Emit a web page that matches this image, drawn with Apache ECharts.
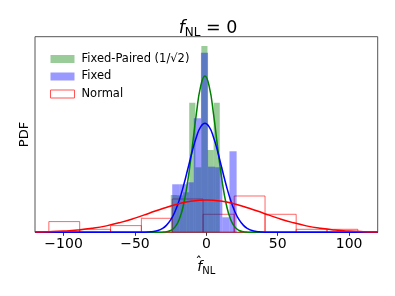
<!DOCTYPE html>
<html>
<head>
<meta charset="utf-8">
<script src="https://cdn.jsdelivr.net/npm/echarts@6/dist/echarts.min.js"></script>
<style>html,body{margin:0;padding:0;background:#fff}#c{width:395px;height:296px}</style>
</head>
<body>
<div id="c"></div>
<script>
// ---- data ----
const xTicks = [-100, -50, 0, 50, 100];
const xTickLabels = ['\u2212100', '\u221250', '0', '50', '100'];

// Normal: histogram (outlined bins)
const normalEdges = [-110.3, -88.7, -67.1, -45.5, -23.9, -2.3, 19.5, 41.1, 62.9, 84.5, 106.1];
const normalHeights = [0.00339, 0.00095, 0.00212, 0.00444, 0.01056, 0.00571, 0.01151, 0.00571, 0.00095, 0.00095];

// Fixed-Paired (1/sqrt2) histogram
const fpEdges = [-24.9, -20.6, -16.3, -12.0, -7.7, -3.5, 0.8, 5.1, 9.4];
const fpHeights = [0.01183, 0.01173, 0.01268, 0.04109, 0.02061, 0.05907, 0.02609, 0.04109];

// Fixed histogram
const fixedEdges = [-23.9, -18.9, -13.9, -8.8, -3.8, 1.2, 6.2, 11.2, 16.2, 21.2];
const fixedHeights = [0.01522, 0.01522, 0.01585, 0.03615, 0.05694, 0.0208, 0.02061, 0.00476, 0.02568];

// fitted curves, read as points
const normalCurveX = [-120, -110, -100, -90, -80, -70, -60, -50, -40, -30, -20, -10, 0, 10, 20, 30, 40, 50, 60, 70, 80, 90, 100, 110, 120];
const normalCurveY = [0.00009, 0.00019, 0.00038, 0.00071, 0.00125, 0.00204, 0.00314, 0.0045, 0.00605, 0.00762, 0.00898, 0.00991, 0.01024, 0.00991, 0.00898, 0.00762, 0.00605, 0.0045, 0.00314, 0.00204, 0.00125, 0.00071, 0.00038, 0.00019, 0.00009];

const fitX = [-120, -43, -40, -37, -34, -31, -28, -25, -22, -19, -16, -13, -10, -7, -4, -1, 2, 5, 8, 11, 14, 17, 20, 23, 26, 29, 32, 35, 38, 41, 120];
const fixedCurveY = [0, 0.00004, 0.00011, 0.00026, 0.00056, 0.00115, 0.00219, 0.00392, 0.00653, 0.01015, 0.01476, 0.02005, 0.02544, 0.03016, 0.03341, 0.03456, 0.03341, 0.03016, 0.02544, 0.02005, 0.01476, 0.01015, 0.00653, 0.00392, 0.00219, 0.00115, 0.00056, 0.00026, 0.00011, 0.00004, 0];
const fpCurveY = [0, 0, 0, 0, 0, 0.00005, 0.00018, 0.00058, 0.00165, 0.00407, 0.00873, 0.01631, 0.02653, 0.03754, 0.04623, 0.04956, 0.04623, 0.03754, 0.02653, 0.01631, 0.00873, 0.00407, 0.00165, 0.00058, 0.00018, 0.00005, 0, 0, 0, 0, 0];

const yMax = 0.062;
// --------------------------------------

function bins(edges, heights) {
  return heights.map((h, i) => [edges[i], edges[i + 1], h]);
}
function pts(xs, ys) { return xs.map((x, i) => [x, ys[i]]); }

function histSeries(name, data, fill, stroke, z) {
  const outline = fill === 'none';
  return {
    name: name, type: 'custom', z: z,
    data: data,
    encode: { x: [0, 1], y: 2 },
    itemStyle: outline
      ? { color: 'rgba(255,255,255,0)', borderColor: stroke, borderWidth: 1 }
      : { color: fill, borderWidth: 0 },
    renderItem: function (params, api) {
      const p0 = api.coord([api.value(0), api.value(2)]);
      const p1 = api.coord([api.value(1), 0]);
      return {
        type: 'rect',
        shape: { x: p0[0], y: p0[1], width: p1[0] - p0[0], height: p1[1] - p0[1] },
        style: outline
          ? { fill: null, stroke: stroke, lineWidth: 1 }
          : { fill: fill, stroke: null }
      };
    }
  };
}

function lineSeries(name, data, color, z) {
  return {
    name: name, type: 'line', data: data, z: z,
    showSymbol: false, symbol: 'none', smooth: true,
    lineStyle: { color: color, width: 1.5 }, itemStyle: { color: color },
    silent: true
  };
}

const FF = 'DejaVu Sans';
const chart = echarts.init(document.getElementById('c'), null, { renderer: 'canvas' });
chart.setOption({
  animation: false,
  backgroundColor: '#fff',
  textStyle: { fontFamily: FF },
  title: {
    text: '{i|f}{s|NL}{n| = 0}',
    left: 203, top: 12, textAlign: 'center',
    textStyle: {
      fontWeight: 'normal',
      rich: {
        i: { fontFamily: FF, fontStyle: 'italic', fontWeight: 'normal', fontSize: 17.5, color: '#000' },
        s: { fontFamily: FF, fontWeight: 'normal', fontSize: 12, color: '#000', padding: [10, 0, 0, 0] },
        n: { fontFamily: FF, fontWeight: 'normal', fontSize: 17.5, color: '#000' }
      }
    }
  },
  grid: { left: 35, right: 17.3, top: 36.7, bottom: 63.7, show: true, borderColor: '#555', borderWidth: 1, backgroundColor: 'rgba(0,0,0,0)' },
  legend: {
    orient: 'vertical', left: 45, top: 48,
    itemWidth: 24, itemHeight: 8, itemGap: 5.5,
    textStyle: { fontFamily: FF, fontSize: 11.5, color: '#000', padding: [0, 0, 0, 2] },
    data: [
      { name: 'Fixed-Paired (1/\u221A2)', icon: 'rect', itemStyle: { color: 'rgba(0,128,0,0.4)', borderWidth: 0 } },
      { name: 'Fixed', icon: 'rect', itemStyle: { color: 'rgba(0,0,255,0.4)', borderWidth: 0 } },
      { name: 'Normal', icon: 'rect', itemStyle: { color: '#ffffff', borderColor: '#ff5555', borderWidth: 1 } }
    ]
  },
  graphic: [
    { type: 'text', left: 195.5, top: 256, z: 10, style: { text: '\u02C6', fontFamily: FF, fontSize: 13, fill: '#000' } }
  ],
  xAxis: {
    type: 'value', min: -120, max: 120,
    axisLine: { show: false },
    splitLine: { show: false },
    axisTick: { show: true, inside: false, length: 3.5, customValues: xTicks, lineStyle: { color: '#333', width: 1 } },
    axisLabel: {
      customValues: xTicks, margin: 5,
      fontFamily: FF, fontSize: 14, color: '#000',
      formatter: function (v) { const i = xTicks.indexOf(v); return i >= 0 ? xTickLabels[i] : ''; }
    },
    name: '{i|f}{s|NL}',
    nameLocation: 'middle', nameGap: 27,
    nameTextStyle: {
      rich: {
        i: { fontFamily: FF, fontStyle: 'italic', fontSize: 14, color: '#000' },
        s: { fontFamily: FF, fontSize: 10, color: '#000', padding: [7, 0, 0, 0] }
      }
    }
  },
  yAxis: {
    type: 'value', min: 0, max: yMax,
    axisLine: { show: false }, axisTick: { show: false }, axisLabel: { show: false }, splitLine: { show: false },
    name: 'PDF', nameLocation: 'middle', nameGap: 4, nameRotate: 90,
    nameTextStyle: { fontFamily: FF, fontSize: 13, color: '#000' }
  },
  series: [
    histSeries('Normal', bins(normalEdges, normalHeights), 'none', 'rgba(255,0,0,0.6)', 1),
    histSeries('Fixed-Paired (1/\u221A2)', bins(fpEdges, fpHeights), 'rgba(0,128,0,0.4)', null, 2),
    histSeries('Fixed', bins(fixedEdges, fixedHeights), 'rgba(0,0,255,0.4)', null, 3),
    lineSeries('fitFP', pts(fitX, fpCurveY), '#008000', 4),
    lineSeries('fitFixed', pts(fitX, fixedCurveY), '#0000ff', 5),
    lineSeries('fitNormal', pts(normalCurveX, normalCurveY), '#ff0000', 6)
  ]
});
</script>
</body>
</html>
